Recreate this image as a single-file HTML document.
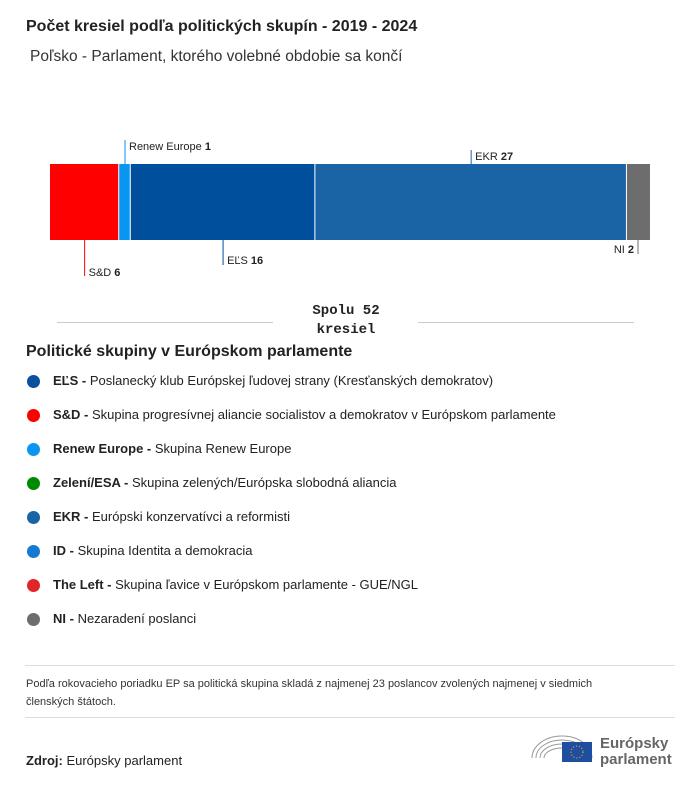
<!DOCTYPE html>
<html><head><meta charset="utf-8">
<style>
body{margin:0;width:700px;height:786px;background:#fff;font-family:"Liberation Sans","DejaVu Sans",sans-serif;color:#222;position:relative;overflow:hidden}
.a{position:absolute;white-space:nowrap}
.leg{position:absolute;left:27px;font-size:13px;color:#222}
.leg span.d{position:absolute;left:0;top:2px;width:13px;height:13px;border-radius:50%}
.leg .t{position:absolute;left:26px;top:0;white-space:nowrap}
</style></head><body>
<div class="a" style="left:26px;top:18px;font-size:16px;font-weight:bold">Počet kresiel podľa politických skupín - 2019 - 2024</div>
<div class="a" style="left:30px;top:48px;font-size:15.5px;color:#333">Poľsko - Parlament, ktorého volebné obdobie sa končí</div>
<svg id="chart" class="a" style="left:0;top:0" width="700" height="340"></svg>
<div class="a" style="left:274px;top:302px;width:144px;text-align:center;font-family:'Liberation Mono',monospace;font-weight:bold;font-size:14px;line-height:19px">Spolu 52<br>kresiel</div>
<div class="a" style="left:57px;top:322px;width:216px;height:1px;background:#ccc"></div>
<div class="a" style="left:418px;top:322px;width:216px;height:1px;background:#ccc"></div>
<div class="a" style="left:26px;top:343px;font-size:16px;font-weight:bold">Politické skupiny v Európskom parlamente</div>
<div id="legend"></div>
<div class="a" style="left:25px;top:665px;width:650px;height:1px;background:#ddd"></div>
<div class="a" style="left:26px;top:675px;font-size:11px;line-height:18px;color:#333;white-space:normal;width:600px">Podľa rokovacieho poriadku EP sa politická skupina skladá z najmenej 23 poslancov zvolených najmenej v siedmich členských štátoch.</div>
<div class="a" style="left:25px;top:717px;width:650px;height:1px;background:#ddd"></div>
<div class="a" style="left:26px;top:753px;font-size:13px"><b>Zdroj:</b> Európsky parlament</div>
<svg class="a" style="left:528px;top:728px" width="150" height="40">
<g fill="none" stroke="#999" stroke-width="1"><path d="M4 30 A30 22 0 0 1 64 30"/><path d="M8 30 A26 18 0 0 1 60 30"/><path d="M12 30 A22 14 0 0 1 56 30"/><path d="M16 30 A18 10 0 0 1 52 30"/></g>
<rect x="34" y="14" width="30" height="20" fill="#1f4ea1"/><circle cx="49" cy="24" r="6" fill="none" stroke="#fc0" stroke-dasharray="1 2"/>
<text x="72" y="20" font-size="15" font-weight="bold" fill="#666" font-family="Liberation Sans">Európsky</text>
<text x="72" y="36" font-size="15" font-weight="bold" fill="#666" font-family="Liberation Sans">parlament</text>
</svg>
<script>
const groups=["S&D","Renew Europe","EĽS","EKR","NI"];
const seats=[6,1,16,27,2];
const colors=["#ff0000","#0a96f0","#004f9c","#1a64a6","#6d6d6d"];
const labelSide=["below","above","below","above","below"];
const legendNames=["EĽS","S&D","Renew Europe","Zelení/ESA","EKR","ID","The Left","NI"];
const legendDesc=["Poslanecký klub Európskej ľudovej strany (Kresťanských demokratov)","Skupina progresívnej aliancie socialistov a demokratov v Európskom parlamente","Skupina Renew Europe","Skupina zelených/Európska slobodná aliancia","Európski konzervatívci a reformisti","Skupina Identita a demokracia","Skupina ľavice v Európskom parlamente - GUE/NGL","Nezaradení poslanci"];
const legendColors=["#0b4f9d","#ff0000","#0a96f0","#008a00","#1a64a6","#1479d2","#e1252a","#6d6d6d"];
const NS="http://www.w3.org/2000/svg";
const svg=document.getElementById('chart');
const X0=50,W=600,Y0=164,H=76;
const total=seats.reduce((a,b)=>a+b,0);
const xs=v=>X0+v/total*W;
let cum=0;
const below=[[276,270],[265,258],[254,247]];
groups.forEach((g,i)=>{
 const x1=xs(cum),x2=xs(cum+seats[i]);cum+=seats[i];
 const r=document.createElementNS(NS,'rect');
 r.setAttribute('x',x1);r.setAttribute('y',Y0);r.setAttribute('width',x2-x1-(i<groups.length-1?1:0));r.setAttribute('height',H);r.setAttribute('fill',colors[i]);
 
 
 svg.appendChild(r);
 const mx=(x1+x2)/2, last=i===groups.length-1;
 const lx=last?x2-12:mx;
 const l=document.createElementNS(NS,'line');
 let y1,y2,ty;
 if(labelSide[i]==='above'){y1=(seats[i]<3?140:150);y2=Y0;ty=y1+10;}
 else{const b=last?below[2]:(seats[i]<10?below[0]:below[1]);y1=Y0+H;y2=b[0];ty=b[1]+6;}
 l.setAttribute('x1',lx);l.setAttribute('x2',lx);l.setAttribute('y1',y1);l.setAttribute('y2',y2);l.setAttribute('stroke',colors[i]);
 
 
 svg.appendChild(l);
 const t=document.createElementNS(NS,'text');
 t.setAttribute('x',last?lx-4:lx+4);t.setAttribute('y',ty);t.setAttribute('font-size','11');t.setAttribute('fill','#222');
 if(last)t.setAttribute('text-anchor','end');
 t.innerHTML=g.replace('&','&amp;')+' <tspan font-weight="bold">'+seats[i]+'</tspan>';
 
 
 svg.appendChild(t);
});
const lg=document.getElementById('legend');
legendNames.forEach((n,i)=>{
 const d=document.createElement('div');d.className='leg';d.style.top=(373+i*34)+'px';
 
 
 const s=document.createElement('span');s.className='d';s.style.background=legendColors[i];d.appendChild(s);
 const t=document.createElement('span');t.className='t';t.innerHTML='<b>'+n.replace('&','&amp;')+' -</b> '+legendDesc[i];d.appendChild(t);
 lg.appendChild(d);
});
</script>
</body></html>
